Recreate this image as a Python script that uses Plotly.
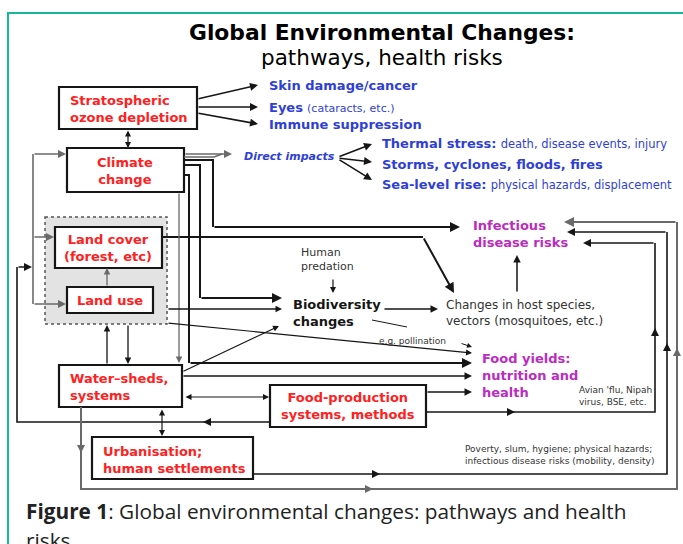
import plotly.graph_objects as go

# ---------------- data (labels of the diagram) ----------------
title_lines = ["Global Environmental Changes:", "pathways, health risks"]
driver_labels = ["Stratospheric<br>ozone depletion", "Climate<br>change",
                 "Land cover<br>(forest, etc)", "Land use",
                 "Water–sheds,<br>systems", "Food-production<br>systems, methods",
                 "Urbanisation;<br>human settlements"]
ozone_outcomes = [("Skin damage/cancer", ""), ("Eyes", "(cataracts, etc.)"),
                  ("Immune suppression", "")]
direct_label = "Direct impacts"
climate_outcomes = [("Thermal stress:", "death, disease events, injury"),
                    ("Storms, cyclones, floods, fires", ""),
                    ("Sea-level rise:", "physical hazards, displacement")]
health_labels = ["Infectious<br>disease risks", "Food yields:<br>nutrition and<br>health"]
mediator_labels = ["Biodiversity<br>changes", "Changes in host species,<br>vectors (mosquitoes, etc.)",
                   "Human<br>predation"]
note_labels = ["e.g. pollination", "Avian 'flu, Nipah<br>virus, BSE, etc.",
               "Poverty, slum, hygiene; physical hazards;<br>infectious disease risks (mobility, density)"]
caption_lines = ["<b>Figure 1</b>: Global environmental changes: pathways and health", "risks"]

# ---------------- layout / style ----------------
W, H = 683, 544
FONT = "DejaVu Sans"
RED = "#ff2121"
BLUE = "#2f3fd6"
MAG = "#bb2cc0"
BLK = "#161616"
GRY = "#6a6a6a"
TEAL = "#17b897"

shapes, anns = [], []


def pth(pts):
    return "M " + " L ".join(f"{x},{y}" for x, y in pts)


def line(pts, color=BLK, width=1.6, dash=None):
    shapes.append(dict(type="path", path=pth(pts), layer="above",
                       line=dict(color=color, width=width, dash=dash)))


def arrow(p0, p1, color=BLK, width=1.6, both=False):
    anns.append(dict(x=p1[0], y=p1[1], ax=p0[0], ay=p0[1], xref="x", yref="y",
                     axref="x", ayref="y", text="", showarrow=True,
                     arrowhead=2, arrowsize=1.0, arrowwidth=width, arrowcolor=color,
                     startarrowhead=2, startarrowsize=1.0,
                     arrowside="end+start" if both else "end",
                     standoff=0, startstandoff=0))


def route(pts, color=BLK, width=1.6, both=False):
    if len(pts) > 2:
        line(pts[:-1], color, width)
    arrow(pts[-2], pts[-1], color, width, both)


def mark(x, y, dx, dy, color=BLK, width=1.6):
    arrow((x - dx * 6, y - dy * 6), (x, y), color, width)


def text(x, y, s, size=13, color=BLK, xanchor="left", align="left", family=FONT):
    anns.append(dict(x=x, y=y, xref="x", yref="y", text=s, showarrow=False,
                     xanchor=xanchor, yanchor="middle", align=align,
                     font=dict(family=family, size=size, color=color)))


def box(x0, y0, x1, y1):
    shapes.append(dict(type="rect", x0=x0, y0=y0, x1=x1, y1=y1, layer="above",
                       fillcolor="rgba(0,0,0,0)", line=dict(color=BLK, width=2.2)))


# teal frame of the page
line([(8, 560), (8, 13), (700, 13)], TEAL, 2)

# dashed group for land cover / land use
shapes.append(dict(type="rect", x0=45, y0=217, x1=167, y1=324, layer="below",
                   fillcolor="#e3e3e3", line=dict(color="#555555", width=1.5, dash="dot")))

# driver boxes
box_pos = [(59, 87, 197, 129), (67, 148, 184, 192), (55, 227, 162, 268), (67, 287, 153, 313),
           (59, 365, 182, 407), (270, 385, 426, 427), (92, 437, 253, 479)]
box_text = [(68, 109, "left"), (125, 170.5, "center"), (108, 248, "center"), (110, 300, "center"),
            (68, 386.5, "left"), (348, 406, "center"), (101, 459.5, "left")]
for (x0, y0, x1, y1) in box_pos:
    shapes.append(dict(type="rect", x0=x0, y0=y0, x1=x1, y1=y1, layer="below",
                       fillcolor="white", line=dict(width=0)))
for (x0, y0, x1, y1) in box_pos:
    box(x0, y0, x1, y1)
for lab, (tx, ty, al) in zip(driver_labels, box_text):
    text(tx, ty, f"<b>{lab}</b>", 13, RED, xanchor=al, align=al)

# ---- ozone
route([(197, 99), (258, 85)])
route([(197, 107), (258, 107)])
route([(197, 113), (258, 124)])
route([(128, 129), (128, 148)], both=True, width=1.2)
oz_y = [85, 107, 124]
for (b, r), y in zip(ozone_outcomes, oz_y):
    s = f"<b>{b}</b>" + (f" <span style='font-size:11px'>{r}</span>" if r else "")
    text(267, y, s, 13, BLUE)

# ---- climate
route([(184, 154), (232, 154)], GRY)
line([(184, 157), (214, 157), (222, 154)], GRY)
text(242, 156, f"<b><i>{direct_label}</i></b>", 11, BLUE)
route([(338, 157), (372, 144)])
route([(338, 158), (372, 162)])
route([(338, 159), (372, 180)])
cl_y = [143, 164, 184]
for (b, r), y in zip(climate_outcomes, cl_y):
    s = f"<b>{b}</b>" + (f" <span style='font-size:11.5px'>{r}</span>" if r else "")
    text(380, y, s, 13, BLUE)

route([(184, 160), (213, 160), (213, 227), (460, 227)], width=2)
route([(184, 165), (200, 165), (200, 298), (282, 298)], width=2)
route([(184, 175), (189, 175), (189, 363), (472, 363)], width=2)
route([(179, 192), (179, 363)], GRY, 1.3)

# left loop
line([(33, 154), (33, 304)], GRY, 1.6)
route([(33, 154), (66, 154)], GRY)
route([(33, 237), (54, 237)], GRY)
route([(33, 304), (66, 304)], GRY)
route([(270, 422), (17, 422), (17, 267), (32, 267)], BLK, 1.6)
mark(203, 422, -1, 0)

# land use / land cover
route([(107, 287), (107, 268)], GRY, 1.3)
route([(162, 237), (423, 237), (454, 293)], BLK, 2)
route([(167, 309), (282, 309)], BLK, 1.3)
route([(167, 323), (472, 353)], BLK, 1.2)
route([(107, 365), (107, 325)], BLK, 1.3)
route([(128, 324), (128, 364)], BLK, 1.3)

# water-sheds
route([(182, 372), (279, 326)], BLK, 1.2)
route([(182, 376), (472, 376)], BLK, 1.5)
route([(184, 397), (269, 397)], BLK, 1.2, both=True)
route([(162, 408), (162, 436)], BLK, 1.2, both=True)
route([(81, 407), (81, 489), (677, 489), (677, 222), (564, 222)], GRY, 2)
mark(81, 453, 0, 1, GRY)
mark(373, 489, 1, 0, GRY)
mark(677, 348, 0, -1, GRY)

# urbanisation
route([(253, 474), (667, 474), (667, 232), (567, 232)], BLK, 1.6)
mark(380, 474, 1, 0)
mark(667, 343, 0, -1)

# food production
route([(426, 412), (655, 412), (655, 243), (583, 243)], BLK, 1.6)
mark(515, 412, 1, 0)
mark(655, 328, 0, -1)
route([(426, 392), (472, 392)], BLK, 1.5)

# biodiversity and hosts
route([(333, 278), (333, 293)], BLK, 1.2)
route([(383, 309), (438, 309)], BLK, 1.5)
line([(372, 320), (407, 327)], BLK, 1)
route([(460, 343), (472, 347)], BLK, 1)
route([(517, 293), (517, 255)], BLK, 1.5)

# health outcomes / mediators / notes
text(471, 234, f"<b>{health_labels[0]}</b>", 13, MAG)
text(480, 375.5, f"<b>{health_labels[1]}</b>", 13, MAG)
text(291, 313, f"<b>{mediator_labels[0]}</b>", 13, BLK)
text(444, 312.5, mediator_labels[1], 12, "#333333")
text(299, 259, mediator_labels[2], 11, "#333333")
text(377, 341, note_labels[0], 9, "#333333")
text(577, 395.5, note_labels[1], 9, "#333333")
text(463, 454.5, note_labels[2], 9, "#333333")

# titles
text(382, 32, f"<b>{title_lines[0]}</b>", 21.8, "black", xanchor="center", align="center")
text(382, 57, title_lines[1], 21.5, "black", xanchor="center", align="center")

# caption
text(24, 511, caption_lines[0], 20.8, "#222222", family="Open Sans")
text(24, 540, caption_lines[1], 20.8, "#222222", family="Open Sans")

fig = go.Figure(go.Scatter(x=[], y=[]))
fig.update_layout(
    width=W, height=H, autosize=False, margin=dict(l=0, r=0, t=0, b=0),
    paper_bgcolor="white", plot_bgcolor="white", showlegend=False,
    xaxis=dict(range=[0, W], visible=False, fixedrange=True),
    yaxis=dict(range=[H, 0], visible=False, fixedrange=True),
    shapes=shapes, annotations=anns,
)
fig.write_html("out.html", config={"displayModeBar": False},
               post_script="document.body.style.margin='0px';document.body.style.overflow='hidden';")
